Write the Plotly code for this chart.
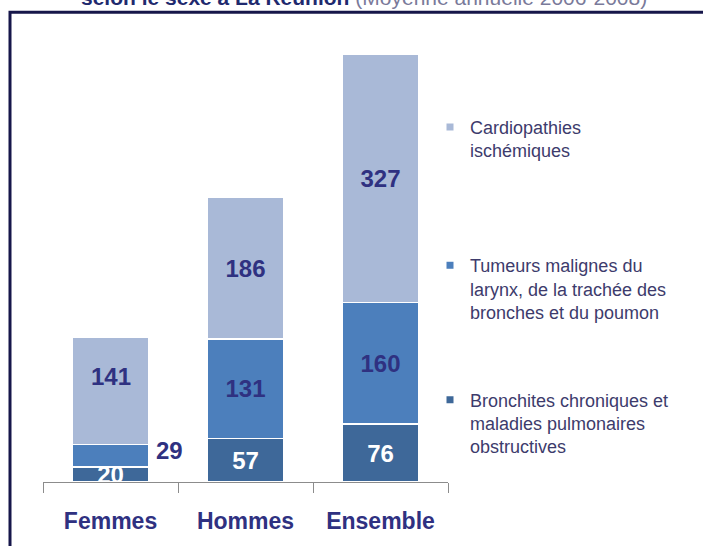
import plotly.graph_objects as go

categories = ["Femmes", "Hommes", "Ensemble"]
bronchites = [20, 57, 76]
tumeurs = [29, 131, 160]
cardio = [141, 186, 327]

series_names = [
    "Bronchites chroniques et<br>maladies pulmonaires<br>obstructives",
    "Tumeurs malignes du<br>larynx, de la trachée des<br>bronches et du poumon",
    "Cardiopathies<br>ischémiques",
]
colors = ["#3E6899", "#4C7FBC", "#A9B9D7"]
label_navy = "#2F3181"

W, H = 703, 546
ML, MR, MT, MB = 43, 255, 41, 62
YMAX = 580

fig = go.Figure()

bar_font = dict(family="Arial, Liberation Sans", size=24, weight="bold")

fig.add_trace(go.Bar(
    x=categories, y=bronchites, marker=dict(color=colors[0], line=dict(color="white", width=1.5)),
    text=[str(v) for v in bronchites], textposition="inside", textangle=0, constraintext="none",
    insidetextanchor="middle", textfont=dict(bar_font, color="white"),
    showlegend=False, hoverinfo="skip", cliponaxis=True))
fig.add_trace(go.Bar(
    x=categories, y=tumeurs, marker=dict(color=colors[1], line=dict(color="white", width=1.5)),
    text=["" if c == "Femmes" else str(v) for c, v in zip(categories, tumeurs)],
    textposition="inside", textangle=0, constraintext="none", insidetextanchor="middle",
    textfont=dict(bar_font, color=label_navy),
    showlegend=False, hoverinfo="skip"))
fig.add_trace(go.Bar(
    x=categories, y=cardio, marker=dict(color=colors[2], line=dict(color="white", width=1.5)),
    text=["" if c == "Femmes" else str(v) for c, v in zip(categories, cardio)],
    textposition="inside", textangle=0, constraintext="none", insidetextanchor="middle",
    textfont=dict(bar_font, color=label_navy),
    showlegend=False, hoverinfo="skip"))

legend_keys = ["legend3", "legend2", "legend"]
for name, col, lk in zip(series_names, colors, legend_keys):
    fig.add_trace(go.Scatter(
        x=[None], y=[None], mode="markers", name=name,
        marker=dict(symbol="square", size=7, color=col),
        legend=lk, hoverinfo="skip"))

fi = categories.index("Femmes")
fig.add_annotation(x="Femmes", y=bronchites[fi] + tumeurs[fi] / 2, text=str(tumeurs[fi]),
                   showarrow=False, xshift=59, yshift=5,
                   font=dict(bar_font, color=label_navy))
fig.add_annotation(x="Femmes", y=bronchites[fi] + tumeurs[fi] + cardio[fi] / 2, text=str(cardio[fi]),
                   showarrow=False, yshift=15,
                   font=dict(bar_font, color=label_navy))

pw, ph = W - ML - MR, H - MT - MB

fig.add_annotation(
    xref="paper", yref="paper", x=(364 - ML) / pw, y=(H - MB - 11) / ph,
    xanchor="center", yanchor="bottom", showarrow=False,
    text="<b>selon le sexe à La Réunion</b> <span style='color:#7A7A9A'>(Moyenne annuelle 2006-2008)</span>",
    font=dict(family="Arial, Liberation Sans", size=21, color="#1F2A6E"))

fig.add_shape(type="rect", xref="paper", yref="paper",
              x0=(10 - ML) / pw, x1=(720 - ML) / pw,
              y0=(H - MB - 570) / ph, y1=(H - MB - 12) / ph,
              line=dict(color="#16164A", width=3), fillcolor="rgba(0,0,0,0)", layer="below")

leg_font = dict(family="Arial, Liberation Sans", size=18, color="#3D3B6C")
lx = (430 - ML) / pw

def ly(px):
    return (H - MB - px) / ph

fig.update_layout(
    width=W, height=H,
    margin=dict(l=ML, r=MR, t=MT, b=MB),
    paper_bgcolor="white", plot_bgcolor="white",
    barmode="stack", bargap=0.44,
    font=dict(family="Arial, Liberation Sans"),
    xaxis=dict(categoryorder="array", categoryarray=categories,
               showline=True, linecolor="#8C8C8C", linewidth=1,
               ticks="outside", tickson="boundaries", ticklen=10, tickcolor="#8C8C8C",
               ticklabelstandoff=18,
               tickfont=dict(family="Arial, Liberation Sans", size=23, color="#2F3181", weight="bold"),
               showgrid=False, zeroline=False, fixedrange=True),
    yaxis=dict(visible=False, range=[0, YMAX], fixedrange=True),
    legend=dict(x=lx, y=ly(109), xanchor="left", yanchor="top", font=leg_font,
                bgcolor="rgba(0,0,0,0)", valign="top"),
    legend2=dict(x=lx, y=ly(248), xanchor="left", yanchor="top", font=leg_font,
                 bgcolor="rgba(0,0,0,0)", valign="top"),
    legend3=dict(x=lx, y=ly(383), xanchor="left", yanchor="top", font=leg_font,
                 bgcolor="rgba(0,0,0,0)", valign="top"),
)

fig.write_html("out.html", config={"displayModeBar": False},
               post_script="document.body.style.margin='0';document.body.style.overflow='hidden';")
